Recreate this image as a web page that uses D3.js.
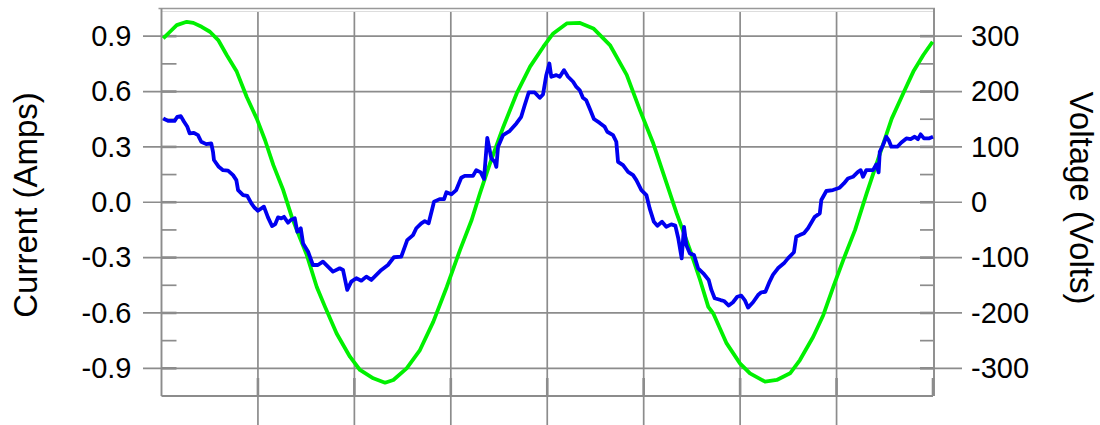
<!DOCTYPE html>
<html>
<head>
<meta charset="utf-8">
<script src="https://cdn.jsdelivr.net/npm/d3@7"></script>
<style>
    body { margin: 0; background: #fff; }
    text { font-family: "Liberation Sans", Arial, sans-serif; fill: #000; }
</style>
</head>
<body>
<div id="chart"></div>
<script>
// blue trace: [time (ms), current (A)]
const current_trace = [
    [0.09,0.454],[0.34,0.441],[0.68,0.441],[0.82,0.463],[1.00,0.467],[1.17,0.436],[1.34,0.409],[1.46,0.373],
    [1.68,0.376],[1.89,0.364],[2.06,0.328],[2.32,0.315],[2.58,0.319],[2.67,0.273],[2.72,0.229],[2.97,0.192],
    [3.19,0.174],[3.45,0.171],[3.71,0.147],[3.88,0.120],[3.97,0.066],[4.23,0.039],[4.45,0.034],[4.66,-0.006],
    [4.83,-0.030],[5.00,-0.046],[5.31,-0.024],[5.52,-0.082],[5.73,-0.129],[5.90,-0.118],[6.04,-0.082],[6.21,-0.087],
    [6.35,-0.079],[6.56,-0.111],[6.70,-0.096],[6.91,-0.087],[7.04,-0.160],[7.22,-0.141],[7.34,-0.223],[7.60,-0.268],
    [7.85,-0.340],[8.11,-0.340],[8.37,-0.322],[8.63,-0.349],[8.89,-0.376],[9.24,-0.358],[9.41,-0.367],[9.63,-0.475],
    [9.84,-0.430],[10.10,-0.412],[10.36,-0.425],[10.62,-0.403],[10.88,-0.421],[11.14,-0.394],[11.40,-0.367],[11.74,-0.340],
    [12.05,-0.298],[12.43,-0.295],[12.74,-0.205],[13.04,-0.178],[13.21,-0.141],[13.47,-0.114],[13.65,-0.102],[13.85,-0.114],
    [14.13,0.003],[14.42,0.017],[14.65,0.017],[14.77,0.054],[15.03,0.043],[15.28,0.066],[15.54,0.133],[15.72,0.143],
    [16.15,0.143],[16.32,0.174],[16.55,0.162],[16.72,0.126],[16.89,0.349],[17.10,0.238],[17.28,0.219],[17.36,0.192],
    [17.45,0.301],[17.71,0.364],[18.05,0.386],[18.40,0.427],[18.65,0.463],[18.83,0.526],[19.04,0.595],[19.35,0.595],
    [19.61,0.566],[19.78,0.584],[19.95,0.689],[20.11,0.752],[20.21,0.680],[20.47,0.689],[20.65,0.680],[20.87,0.716],
    [21.08,0.680],[21.34,0.653],[21.51,0.625],[21.68,0.608],[21.85,0.566],[22.02,0.553],[22.20,0.508],[22.42,0.451],
    [22.72,0.430],[22.98,0.409],[23.11,0.382],[23.41,0.364],[23.58,0.328],[23.67,0.219],[23.93,0.201],[24.19,0.165],
    [24.45,0.147],[24.62,0.120],[24.88,0.066],[25.14,0.039],[25.31,-0.033],[25.53,-0.106],[25.71,-0.127],[25.95,-0.106],
    [26.17,-0.133],[26.43,-0.120],[26.64,-0.127],[26.79,-0.194],[26.97,-0.304],[27.09,-0.133],[27.21,-0.232],[27.39,-0.277],
    [27.61,-0.286],[27.82,-0.358],[28.13,-0.390],[28.37,-0.421],[28.51,-0.475],[28.68,-0.520],[28.99,-0.530],[29.16,-0.535],
    [29.41,-0.560],[29.63,-0.542],[29.85,-0.512],[30.06,-0.506],[30.24,-0.530],[30.41,-0.571],[30.67,-0.542],[30.93,-0.503],
    [31.10,-0.488],[31.31,-0.485],[31.53,-0.430],[31.70,-0.394],[31.96,-0.358],[32.27,-0.331],[32.48,-0.304],[32.79,-0.271],
    [32.91,-0.187],[33.09,-0.178],[33.31,-0.168],[33.52,-0.141],[33.87,-0.079],[34.13,-0.060],[34.21,0.012],[34.47,0.061],
    [34.81,0.066],[35.16,0.079],[35.38,0.102],[35.59,0.129],[35.85,0.138],[36.11,0.165],[36.25,0.174],[36.37,0.138],
    [36.54,0.174],[36.89,0.174],[37.06,0.205],[37.18,0.162],[37.24,0.273],[37.41,0.310],[37.58,0.355],[37.70,0.337],
    [37.84,0.301],[38.15,0.301],[38.36,0.324],[38.62,0.346],[38.84,0.342],[39.05,0.355],[39.22,0.342],[39.36,0.368],
    [39.53,0.346],[39.78,0.346],[40.00,0.355]
];

// green trace: [time (ms), voltage (V)]
const voltage_trace = [
    [0.09,296],[0.44,308],[0.79,320],[1.31,326],[1.65,324],[2.08,317],[2.51,308],[2.94,293],[3.38,266],[3.90,236],
    [4.42,190],[4.94,151],[5.37,112],[5.80,67],[6.31,22],[6.75,-26],[7.01,-50],[7.53,-95],[8.05,-153],[8.48,-189],
    [9.08,-237],[9.77,-279],[10.29,-303],[10.98,-318],[11.59,-326],[12.02,-321],[12.71,-300],[13.40,-267],[14.09,-216],
    [14.79,-153],[15.48,-86],[16.08,-32],[16.51,16],[17.03,70],[17.72,136],[18.42,197],[19.11,245],[19.80,281],
    [20.31,305],[21.01,323],[21.70,324],[22.39,314],[23.25,284],[24.12,230],[24.81,166],[25.50,106],[26.19,34],
    [26.71,-20],[27.40,-86],[27.92,-140],[28.35,-189],[28.61,-201],[29.30,-255],[29.99,-291],[30.51,-309],[31.29,-324],
    [31.90,-321],[32.59,-309],[33.10,-285],[33.79,-243],[34.31,-204],[34.83,-153],[35.35,-104],[35.96,-50],[36.56,16],
    [37.25,88],[37.86,151],[38.46,197],[38.98,236],[39.50,266],[39.98,290]
];

const current_ticks = [0.9, 0.6, 0.3, 0.0, -0.3, -0.6, -0.9];
const current_minor = [0.75, 0.45, 0.15, -0.15, -0.45, -0.75];
const voltage_ticks = [300, 200, 100, 0, -100, -200, -300];
const time_grid = [0, 5, 10, 15, 20, 25, 30, 35, 40];

const W = 1100, H = 425;
const plotLeft = 161.5, plotRight = 933, plotTop = 8.5, plotBottom = 396;
const grid_color = "#8c8c8c";

let svg = d3.select("#chart").append("svg")
    .attr("width", W)
    .attr("height", H);

let xScale = d3.scaleLinear().domain([0, 40]).range([plotLeft, plotRight]);
let yCurrent = d3.scaleLinear().domain([-1.05, 1.05]).range([plotBottom, plotTop]);
let yVoltage = d3.scaleLinear().domain([-350, 350]).range([plotBottom, plotTop]);

// horizontal grid, running out past both frame edges as ticks
svg.append("g").selectAll("line")
    .data(current_ticks)
    .enter()
    .append("line")
    .attr("x1", 143)
    .attr("x2", 962)
    .attr("y1", d => yCurrent(d))
    .attr("y2", d => yCurrent(d))
    .attr("stroke", grid_color)
    .attr("stroke-width", 1.7);

// vertical grid, running out below the frame
svg.append("g").selectAll("line")
    .data(time_grid.slice(1, -1))
    .enter()
    .append("line")
    .attr("x1", d => xScale(d))
    .attr("x2", d => xScale(d))
    .attr("y1", 12)
    .attr("y2", H)
    .attr("stroke", grid_color)
    .attr("stroke-width", 1.7);

// inner tick marks
let inner = svg.append("g").attr("stroke", grid_color);
inner.selectAll(".minL")
    .data(current_minor)
    .enter()
    .append("line")
    .attr("x1", plotLeft).attr("x2", plotLeft + 15)
    .attr("y1", d => yCurrent(d)).attr("y2", d => yCurrent(d))
    .attr("stroke-width", 1.7);
inner.selectAll(".minR")
    .data(current_minor)
    .enter()
    .append("line")
    .attr("x1", plotRight - 13).attr("x2", plotRight)
    .attr("y1", d => yCurrent(d)).attr("y2", d => yCurrent(d))
    .attr("stroke-width", 1.7);
inner.selectAll(".majL")
    .data(current_ticks)
    .enter()
    .append("line")
    .attr("x1", plotLeft).attr("x2", plotLeft + 15)
    .attr("y1", d => yCurrent(d)).attr("y2", d => yCurrent(d))
    .attr("stroke-width", 2.6);
inner.selectAll(".majR")
    .data(current_ticks)
    .enter()
    .append("line")
    .attr("x1", plotRight - 13).attr("x2", plotRight)
    .attr("y1", d => yCurrent(d)).attr("y2", d => yCurrent(d))
    .attr("stroke-width", 2.6);
inner.selectAll(".majB")
    .data(time_grid.slice(1))
    .enter()
    .append("line")
    .attr("x1", d => xScale(d)).attr("x2", d => xScale(d))
    .attr("y1", plotBottom - 18).attr("y2", plotBottom)
    .attr("stroke-width", 2.6);

// frame
svg.append("line")
    .attr("x1", plotLeft - 3).attr("x2", plotRight + 2)
    .attr("y1", plotTop).attr("y2", plotTop)
    .attr("stroke", "#999").attr("stroke-width", 1.6);
svg.append("line")
    .attr("x1", plotLeft).attr("x2", plotRight)
    .attr("y1", plotTop + 3).attr("y2", plotTop + 3)
    .attr("stroke", "#ddd").attr("stroke-width", 1);
svg.append("line")
    .attr("x1", plotLeft).attr("x2", plotLeft)
    .attr("y1", plotTop).attr("y2", plotBottom)
    .attr("stroke", grid_color).attr("stroke-width", 1.9);
svg.append("line")
    .attr("x1", plotRight + 1).attr("x2", plotRight + 1)
    .attr("y1", plotTop).attr("y2", plotBottom)
    .attr("stroke", grid_color).attr("stroke-width", 1.9);
svg.append("line")
    .attr("x1", plotLeft).attr("x2", plotRight)
    .attr("y1", plotBottom).attr("y2", plotBottom)
    .attr("stroke", grid_color).attr("stroke-width", 1.9);

// tick labels
let yAxisLeft = d3.axisLeft(yCurrent)
    .tickValues(current_ticks)
    .tickSize(0)
    .tickPadding(30)
    .tickFormat(d => d.toFixed(1));
svg.append("g")
    .attr("transform", "translate(" + plotLeft + ",0)")
    .call(yAxisLeft)
    .call(g => g.select(".domain").remove())
    .selectAll("text")
    .style("font-size", "29px")
    .style("font-family", "Liberation Sans, Arial, sans-serif");

let yAxisRight = d3.axisRight(yVoltage)
    .tickValues(voltage_ticks)
    .tickSize(0)
    .tickPadding(38)
    .tickFormat(d => String(d));
svg.append("g")
    .attr("transform", "translate(" + plotRight + ",0)")
    .call(yAxisRight)
    .call(g => g.select(".domain").remove())
    .selectAll("text")
    .style("font-size", "29px")
    .style("font-family", "Liberation Sans, Arial, sans-serif");

// axis titles
svg.append("text")
    .attr("transform", "translate(37," + 205 + ") rotate(-90)")
    .style("text-anchor", "middle")
    .style("font-size", "33px")
    .text("Current (Amps)");

svg.append("text")
    .attr("transform", "translate(1070," + 198 + ") rotate(90)")
    .style("text-anchor", "middle")
    .style("font-size", "33px")
    .text("Voltage (Volts)");

// traces
let voltLine = d3.line()
    .x(d => xScale(d[0]))
    .y(d => yVoltage(d[1]));
let currLine = d3.line()
    .x(d => xScale(d[0]))
    .y(d => yCurrent(d[1]));

svg.append("path")
    .datum(voltage_trace)
    .attr("d", voltLine)
    .attr("fill", "none")
    .attr("stroke", "#00f000")
    .attr("stroke-width", 3.8)
    .attr("stroke-linejoin", "round");

svg.append("path")
    .datum(current_trace)
    .attr("d", currLine)
    .attr("fill", "none")
    .attr("stroke", "#0000f0")
    .attr("stroke-width", 3.8)
    .attr("stroke-linejoin", "round");
</script>
</body>
</html>
